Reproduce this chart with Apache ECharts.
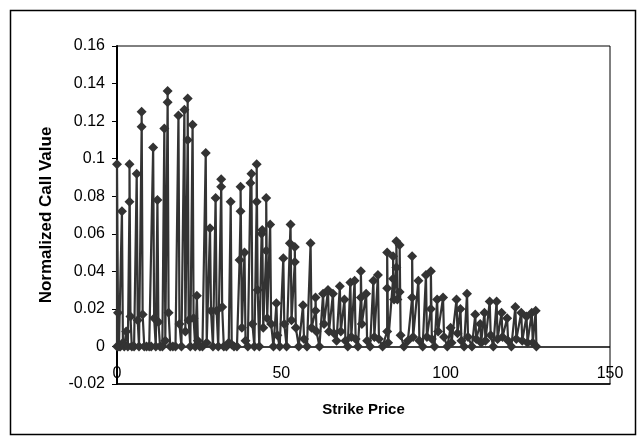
<!DOCTYPE html>
<html>
<head>
<meta charset="utf-8">
<script src="https://cdn.jsdelivr.net/npm/echarts@6/dist/echarts.min.js"></script>
<style>
html,body{margin:0;padding:0;background:#fff;}
#c{width:642px;height:444px;}
</style>
</head>
<body>
<div id="c"></div>
<script>
// Strike prices (x) and normalized call values (y), in drawing order
const strike = [
0,0,0.3,0.6,1,1.5,1.8,2.2,2.8,3.3,3.8,3.8,4.1,4.5,5.2,6,6.3,6.7,7.5,7.5,7.8,8.3,9,9.8,10.4,
11,11.3,11.8,12.3,12.6,13.1,13.8,14.4,14.7,15.4,15.4,15.7,16.2,17,17.8,18.7,19,19.6,20.5,20.8,
21.5,21.5,21.8,22.3,23,23.3,23.8,24.3,24.6,25.2,26,27,27.3,28.3,28.6,29.2,30,30.3,30.8,31.7,31.7,
32,32.5,33.3,34,34.6,34.9,35.6,36.5,37.3,37.6,37.6,38,38.8,39.1,39.8,40.6,40.9,41.2,41.8,42.5,42.5,
42.8,43.3,44,44.2,44.5,45.4,45.4,45.7,46.6,46.9,47.6,48.5,48.8,49.5,50.6,50.9,51.6,52.6,52.8,53.1,
54.1,54.1,54.4,55.3,56.6,56.9,57.8,58.9,59.2,60.4,60.4,60.7,61.6,62.7,63,64.2,64.5,65.7,66,66.8,
67.8,68.1,69.2,69.5,70.2,71,71.3,72.3,72.6,73.3,74.2,74.2,74.5,75.8,76.1,77,78,78.3,79.4,79.7,80.8,
82.2,82.2,82.2,82.5,84,84,84.3,85,85,85.3,86,86,86.3,87.3,88.5,89.8,89.8,90.1,91.7,92,93,94,94.3,
95.5,95.5,95.8,96.6,97.4,97.7,99.2,99.5,100.5,101.5,101.8,103.3,103.6,104.5,104.8,105.6,106.5,106.8,
108,109,109.3,110.5,110.8,111.8,112.1,113.4,113.7,114.5,115.5,115.8,117,117.3,118.7,119,120,121.2,
121.5,123,123.3,124.6,124.9,126.2,126.5,127.4,127.6
];
const callValue = [
0,0.097,0.018,0,0,0.072,0.002,0,0.008,0,0.077,0.097,0.016,0,0,0.092,0.014,0,0.117,0.125,0.017,0,0,0,0,
0.106,0.015,0,0.078,0.013,0,0,0.116,0.003,0.130,0.136,0.018,0,0,0,0.123,0.012,0,0.126,0.008,
0.110,0.132,0.014,0,0.118,0.015,0,0.027,0.003,0,0,0.103,0.002,0.063,0.019,0,0.079,0.019,0,0.085,0.089,
0.021,0,0,0.002,0.077,0.001,0,0,0.046,0.072,0.085,0.010,0.050,0.003,0,0.087,0.092,0.012,0,0.077,0.097,
0.030,0,0.060,0.062,0.010,0.051,0.079,0.015,0.065,0.012,0,0.023,0.006,0,0.047,0.012,0,0.055,0.065,0.014,
0.045,0.053,0.010,0,0.022,0.004,0,0.055,0.010,0.019,0.026,0.008,0,0.028,0.012,0.030,0.008,0.028,0.007,0.003,
0.032,0.008,0.025,0.003,0,0.034,0.005,0.035,0.004,0,0.026,0.040,0.012,0.028,0.003,0,0.035,0.005,0.038,0.004,0,
0.008,0.031,0.050,0.002,0.036,0.048,0.025,0.042,0.056,0.025,0.029,0.054,0.006,0,0.003,0.026,0.048,0.005,0.035,0.003,0,0.038,0.005,
0.020,0.040,0.004,0,0.025,0.008,0.026,0.005,0,0.010,0.002,0.025,0.007,0.020,0.003,0,0.028,0.005,
0,0.017,0.004,0.012,0.002,0.018,0.003,0.024,0.006,0,0.024,0.004,0.018,0.005,0.015,0.003,0,0.021,
0.004,0.018,0.003,0.016,0.002,0.018,0.002,0.019,0
];
const xTicks = [0, 50, 100, 150];
const yTicks = [-0.02, 0, 0.02, 0.04, 0.06, 0.08, 0.1, 0.12, 0.14, 0.16];

const points = strike.map((s, i) => [s, callValue[i]]);
const chart = echarts.init(document.getElementById('c'), null, {renderer: 'canvas'});
const font = 'Liberation Sans, Arial, sans-serif';
chart.setOption({
  animation: false,
  backgroundColor: '#fff',
  graphic: [{
    type: 'rect', shape: {x: 10.5, y: 10.5, width: 625, height: 424},
    style: {fill: 'none', stroke: '#000', lineWidth: 1.5}, silent: true, z: 0
  }],
  grid: {left: 117, right: 32, top: 46, bottom: 60, show: true, borderColor: '#000', borderWidth: 1,
    backgroundColor: 'transparent', outerBoundsMode: 'none', containLabel: false},
  xAxis: {
    type: 'value', min: xTicks[0], max: xTicks[xTicks.length - 1], interval: 50,
    name: 'Strike Price', nameLocation: 'middle', nameGap: 18,
    nameTextStyle: {fontFamily: font, fontSize: 15, fontWeight: 'bold', color: '#000'},
    axisLine: {onZero: false, lineStyle: {color: '#000', width: 1.5}},
    axisTick: {show: false},
    axisLabel: {fontFamily: font, fontSize: 16, color: '#000', inside: true, margin: 2},
    splitLine: {show: false}
  },
  yAxis: {
    type: 'value', min: yTicks[0], max: yTicks[yTicks.length - 1], interval: 0.02,
    name: 'Normalized Call Value', nameLocation: 'middle', nameGap: 62,
    nameTextStyle: {fontFamily: font, fontSize: 17, fontWeight: 'bold', color: '#000'},
    axisLine: {onZero: false, lineStyle: {color: '#000', width: 2}},
    axisTick: {show: true, length: 5, lineStyle: {color: '#000'}},
    axisLabel: {fontFamily: font, fontSize: 16, color: '#000', margin: 12,
      formatter: v => String(Math.round(v * 100) / 100)},
    splitLine: {show: false}
  },
  series: [{
    type: 'line', data: points, symbol: 'diamond', symbolSize: 10,
    lineStyle: {color: '#333', width: 2.2}, itemStyle: {color: '#333'},
    showAllSymbol: true, clip: false, z: 3,
    markLine: {
      silent: true, symbol: 'none', label: {show: false},
      lineStyle: {color: '#000', width: 1.5, type: 'solid'},
      data: [{yAxis: 0}], z: 1
    }
  }]
});
</script>
</body>
</html>
